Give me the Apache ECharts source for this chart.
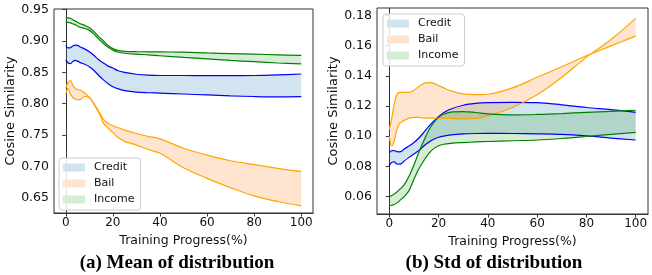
<!DOCTYPE html>
<html>
<head>
<meta charset="utf-8">
<script src="https://cdn.jsdelivr.net/npm/echarts@6/dist/echarts.min.js"></script>
<style>
html,body{margin:0;padding:0;background:#fff;}
#chart{width:652px;height:275px;}
</style>
</head>
<body>
<div id="chart"></div>
<script>
// ---- data ----
const progress = [0,1,2,3,4,5,6,8,10,12,14,16,18,20,22,25,30,35,40,50,60,70,80,90,100];
const xTicks = [0,20,40,60,80,100];
const meanTicks = [0.65,0.70,0.75,0.80,0.85,0.90,0.95];
const stdTicks = [0.06,0.08,0.10,0.12,0.14,0.16,0.18];
const seriesNames = ['Credit','Bail','Income'];

// (a) Mean of distribution
const meanCreditUpper = [0.893,0.889,0.8895,0.892,0.8935,0.893,0.891,0.8875,0.883,0.877,0.870,0.865,0.860,0.857,0.853,0.850,0.847,0.8455,0.845,0.845,0.8448,0.8447,0.845,0.846,0.8474];
const meanCreditLower = [0.870,0.865,0.864,0.8675,0.869,0.868,0.866,0.863,0.859,0.853,0.845,0.838,0.832,0.827,0.824,0.821,0.8185,0.8175,0.817,0.8155,0.814,0.8125,0.8115,0.811,0.8112];
const meanBailUpper = [0.825,0.834,0.837,0.829,0.825,0.8225,0.822,0.8175,0.810,0.800,0.788,0.775,0.769,0.765,0.762,0.758,0.7525,0.748,0.744,0.729,0.718,0.709,0.703,0.697,0.692];
const meanBailLower = [0.8155,0.824,0.815,0.810,0.8075,0.8065,0.8065,0.8115,0.810,0.799,0.786,0.769,0.761,0.754,0.747,0.740,0.734,0.727,0.721,0.698,0.681,0.666,0.653,0.644,0.637];
const meanIncomeUpper = [0.937,0.9368,0.936,0.934,0.932,0.930,0.928,0.925,0.921,0.915,0.907,0.900,0.893,0.888,0.885,0.8835,0.883,0.8828,0.8826,0.8824,0.881,0.880,0.879,0.878,0.877];
const meanIncomeLower = [0.930,0.9297,0.929,0.9275,0.926,0.924,0.922,0.920,0.917,0.911,0.903,0.896,0.890,0.8855,0.8825,0.8805,0.879,0.878,0.8765,0.8738,0.8715,0.869,0.867,0.865,0.8635];

// (b) Std of distribution
const stdCreditUpper = [0.089,0.0905,0.0905,0.0898,0.0897,0.090,0.0915,0.0935,0.0958,0.0988,0.1025,0.1065,0.110,0.113,0.1155,0.118,0.1205,0.1217,0.1222,0.1224,0.1222,0.1208,0.119,0.1176,0.1158];
const stdCreditLower = [0.0802,0.0828,0.083,0.0816,0.0815,0.082,0.0835,0.086,0.0882,0.0905,0.0935,0.096,0.098,0.0993,0.1001,0.1009,0.1015,0.1018,0.1019,0.1018,0.1016,0.1012,0.1002,0.0988,0.0975];
const stdBailUpper = [0.1045,0.112,0.121,0.1275,0.129,0.1292,0.129,0.129,0.1305,0.133,0.135,0.1355,0.135,0.1335,0.132,0.130,0.128,0.1275,0.1278,0.132,0.139,0.146,0.1533,0.1598,0.1663];
const stdBailLower = [0.100,0.0935,0.097,0.104,0.108,0.1095,0.1105,0.112,0.1125,0.1125,0.112,0.112,0.112,0.112,0.112,0.1118,0.1115,0.1118,0.1135,0.119,0.1275,0.139,0.1522,0.164,0.178];
const stdIncomeUpper = [0.060,0.0608,0.0618,0.063,0.0645,0.066,0.0678,0.0735,0.081,0.0895,0.097,0.104,0.109,0.1125,0.1145,0.116,0.1163,0.1157,0.1148,0.1141,0.1144,0.115,0.1158,0.1165,0.1172];
const stdIncomeLower = [0.054,0.0543,0.0548,0.0557,0.057,0.0585,0.060,0.064,0.0715,0.0785,0.0838,0.0885,0.0918,0.0937,0.0947,0.0953,0.0958,0.0962,0.0965,0.097,0.0975,0.0985,0.0998,0.1012,0.1025];

// ---- styles ----
const lineColors = ['#0000ff','#ffa500','#008000'];
const fillColors = ['rgba(31,119,180,0.2)','rgba(255,127,14,0.2)','rgba(44,160,44,0.2)'];
const legendFill = ['#d2e3f0','#ffe5cf','#d5ecd5'];
const FONT = 'DejaVu Sans';

function band(name, idx, upper, lower, axisIdx) {
  const stackKey = name + '_' + axisIdx;
  // value first so that the y dimension is the stacked one
  const low = progress.map((x, i) => [lower[i], x]);
  const diff = progress.map((x, i) => [upper[i] - lower[i], x]);
  const common = {
    type: 'line', xAxisIndex: axisIdx, yAxisIndex: axisIdx,
    encode: { x: 1, y: 0 },
    stack: stackKey, stackStrategy: 'all', smooth: 0.35,
    symbol: 'none', silent: true, animation: false,
    lineStyle: { color: lineColors[idx], width: 1.2 }
  };
  return [
    Object.assign({}, common, { name: name + ' lower', data: low }),
    Object.assign({}, common, { name: name, data: diff,
      itemStyle: { color: fillColors[idx] },
      areaStyle: { color: fillColors[idx], opacity: 1 } })
  ];
}

const series = [].concat(
  band('Credit', 0, meanCreditUpper, meanCreditLower, 0),
  band('Bail', 1, meanBailUpper, meanBailLower, 0),
  band('Income', 2, meanIncomeUpper, meanIncomeLower, 0),
  band('Credit', 0, stdCreditUpper, stdCreditLower, 1),
  band('Bail', 1, stdBailUpper, stdBailLower, 1),
  band('Income', 2, stdIncomeUpper, stdIncomeLower, 1)
);

function xAxisDef(gi) {
  return {
    type: 'value', gridIndex: gi, min: -5, max: 105,
    name: 'Training Progress(%)', nameLocation: 'middle', nameGap: 18,
    nameTextStyle: { fontFamily: FONT, fontSize: 12.5, color: '#111' },
    axisLine: { show: true, lineStyle: { color: '#333', width: 1 } },
    axisTick: { show: true, length: 3.5, lineStyle: { color: '#333' }, customValues: xTicks },
    axisLabel: { fontFamily: FONT, fontSize: 12, color: '#111', margin: 4, customValues: xTicks },
    splitLine: { show: false }
  };
}
function yAxisDef(gi, min, max, ticks) {
  return {
    type: 'value', gridIndex: gi, min: min, max: max,
    name: 'Cosine Similarity', nameLocation: 'middle', nameGap: 26,
    nameTextStyle: { fontFamily: FONT, fontSize: 13, color: '#111' },
    axisLine: { show: true, lineStyle: { color: '#333', width: 1 } },
    axisTick: { show: true, length: 3.5, lineStyle: { color: '#333' }, customValues: ticks },
    axisLabel: { fontFamily: FONT, fontSize: 12.5, color: '#111', margin: 5, customValues: ticks,
      formatter: v => v.toFixed(2) },
    splitLine: { show: false }
  };
}
function legendDef(left, top) {
  return {
    orient: 'vertical', left: left, top: top,
    data: seriesNames.map((n, i) => ({ name: n, icon: 'rect',
      itemStyle: { color: legendFill[i], borderWidth: 0 } })),
    itemWidth: 22, itemHeight: 8, itemGap: 5,
    padding: [4, 6, 5, 4],
    backgroundColor: 'rgba(255,255,255,0.85)',
    borderColor: '#cccccc', borderWidth: 1, borderRadius: 3,
    selectedMode: false,
    textStyle: { fontFamily: FONT, fontSize: 11, color: '#111', padding: [0, 0, 0, 4] }
  };
}

const chart = echarts.init(document.getElementById('chart'), null, { renderer: 'canvas' });
chart.setOption({
  animation: false,
  backgroundColor: '#ffffff',
  grid: [
    { left: 54, top: 9, width: 259, height: 204, show: true, borderColor: '#333', borderWidth: 1, backgroundColor: 'transparent' },
    { left: 377, top: 8, width: 271, height: 206, show: true, borderColor: '#333', borderWidth: 1, backgroundColor: 'transparent' }
  ],
  xAxis: [xAxisDef(0), xAxisDef(1)],
  yAxis: [yAxisDef(0, 0.6257, 0.9511, meanTicks), yAxisDef(1, 0.0485, 0.1849, stdTicks)],
  legend: [legendDef(59, 158), legendDef(383, 14)],
  graphic: [
    { type: 'text', x: 177, y: 263, style: { text: '(a) Mean of distribution', font: 'bold 19px "Liberation Serif"', fill: '#000', textAlign: 'center', textVerticalAlign: 'middle' } },
    { type: 'text', x: 494, y: 263, style: { text: '(b) Std of distribution', font: 'bold 19px "Liberation Serif"', fill: '#000', textAlign: 'center', textVerticalAlign: 'middle' } }
  ],
  series: series
});
</script>
</body>
</html>
